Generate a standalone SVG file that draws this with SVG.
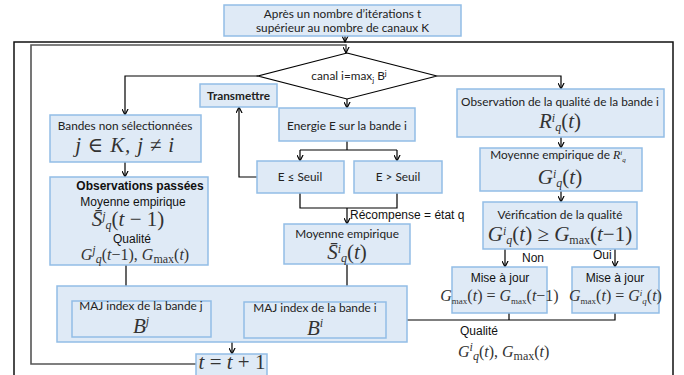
<svg xmlns="http://www.w3.org/2000/svg" width="684" height="375" viewBox="0 0 684 375">
<defs>
<marker id="ah" viewBox="0 0 8 8" refX="7" refY="4" markerWidth="7" markerHeight="7" orient="auto" markerUnits="userSpaceOnUse">
<path d="M0,0.5 L7,4 L0,7.5" fill="none" stroke="#000" stroke-width="1.3"/>
</marker>
<style>
.box{fill:#dfeaf6;stroke:#92bde6;stroke-width:1.5}
.c{fill:none;stroke:#000;stroke-width:1.2}
.ca{fill:none;stroke:#000;stroke-width:1.2;marker-end:url(#ah)}
.t{font-family:Lato,"Liberation Sans",sans-serif;font-size:11.8px;fill:#222;text-anchor:middle}
.a{font-family:"Liberation Sans",Arial,sans-serif;font-size:12px;fill:#111;text-anchor:middle}
.b{font-weight:bold}
.m{font-family:"Liberation Serif","DejaVu Serif",serif;font-size:21px;fill:#333;text-anchor:middle}
.ms{font-family:"Liberation Serif","DejaVu Serif",serif;font-size:16px;fill:#333;text-anchor:middle}
.i{font-style:italic}
.s{font-size:12px}
.s9{font-size:9px}
.n{font-style:normal}
</style>
</defs>
<rect x="0" y="0" width="684" height="375" fill="#fff"/>
<g id="frame">
<path d="M14,375 V42 H673 V375" fill="none" stroke="#111" stroke-width="1.5"/>
</g>
<g id="connectors">
<path d="M196,364 H31 V45 H346 V53" fill="none" stroke="#555" stroke-width="1.6" marker-end="url(#ah)"/>
<path class="ca" d="M345,36 V42"/>
<path class="ca" d="M258,76 H125 V115"/>
<path class="ca" d="M437,76 H561 V89"/>
<path class="ca" d="M347,99 V108"/>
<path class="ca" d="M125,162 V177"/>
<path class="c" d="M347,141 V150"/>
<path class="ca" d="M300,150 V161"/>
<path class="ca" d="M397,150 V161"/>
<path class="c" d="M300,150 H397"/>
<path class="ca" d="M257,177 H239 V107"/>
<path class="c" d="M300,193 V208 H397 V193"/>
<path class="ca" d="M347,208 V224"/>
<path class="ca" d="M561,137 V148"/>
<path class="ca" d="M561,191 V202"/>
<path class="ca" d="M505,249 V267"/>
<path class="ca" d="M615,249 V267"/>
<path class="c" d="M509,313 V320"/>
<path class="ca" d="M615,313 V320 H386"/>
<path class="ca" d="M126,265 V301"/>
<path class="ca" d="M347,264 V302"/>
<path class="ca" d="M232,342 V354"/>
<text class="a" x="350" y="219" font-size="12.6" style="text-anchor:start">Récompense = état q</text>
<text class="a" x="522" y="262" style="text-anchor:start">Non</text>
<text class="a" x="593" y="259" style="text-anchor:start">Oui</text>
<text class="a" x="460" y="335" style="text-anchor:start">Qualité</text>
<text class="ms i" x="458" y="357" style="text-anchor:start">G<tspan class="s" dy="-6">i</tspan><tspan class="s" dy="9">q</tspan><tspan dy="-3" class="n">(</tspan>t<tspan class="n">), </tspan>G<tspan class="s n" dy="3">max</tspan><tspan class="n" dy="-3">(</tspan>t<tspan class="n">)</tspan></text>
</g>
<g id="start">
<rect class="box" x="224" y="5" width="237" height="31"/>
<text class="t" x="342.5" y="17.5" font-size="12.2">Après un nombre d’itérations  t</text>
<text class="t" x="342.5" y="32" font-size="12.2">supérieur au nombre de canaux K</text>
</g>
<g id="decision">
<polygon points="347,53 437,76 347,99 258,76" fill="#fff" stroke="#000" stroke-width="1.2"/>
<text class="t" x="349" y="80" font-size="11">canal i=max<tspan font-size="8" dy="3">j</tspan><tspan dy="-3"> B</tspan><tspan font-size="8" dy="-4">j</tspan></text>
</g>
<g id="transmettre">
<rect class="box" x="200" y="84" width="77" height="23"/>
<text class="t b" x="238.5" y="100" font-size="11">Transmettre</text>
</g>
<g id="bandes">
<rect class="box" x="50" y="115" width="151" height="47"/>
<text class="t" x="125" y="130">Bandes non sélectionnées</text>
<text class="m i" x="125" y="152" letter-spacing="0.8">j ∈ K, j ≠ i</text>
</g>
<g id="observations">
<rect class="box" x="50" y="177" width="158" height="88"/>
<text class="a b" x="140" y="190" font-size="13.5">Observations passées</text>
<text class="a" x="133" y="205.5" font-size="13.5">Moyenne empirique</text>
<text class="m i" x="128" y="226" font-size="20">S̄<tspan class="s" dy="-6">j</tspan><tspan class="s" dy="9">q</tspan><tspan dy="-3" class="n">(</tspan>t<tspan class="n"> − 1)</tspan></text>
<text class="a" x="132" y="243" font-size="13.5">Qualité</text>
<text class="ms i" x="135" y="260" font-size="17.5">G<tspan class="s" dy="-6">j</tspan><tspan class="s" dy="9">q</tspan><tspan dy="-3" class="n">(</tspan>t<tspan class="n">−1), </tspan>G<tspan class="s n" dy="3">max</tspan><tspan class="n" dy="-3">(</tspan>t<tspan class="n">)</tspan></text>
</g>
<g id="energie">
<rect class="box" x="279" y="108" width="136" height="33"/>
<text class="t" x="347" y="130">Energie E sur la bande i</text>
</g>
<g id="seuil-inf">
<rect class="box" x="257" y="161" width="87" height="32"/>
<text class="t" x="300" y="181">E ≤ Seuil</text>
</g>
<g id="seuil-sup">
<rect class="box" x="354" y="161" width="88" height="32"/>
<text class="t" x="398" y="181">E &gt; Seuil</text>
</g>
<g id="moyenne-i">
<rect class="box" x="284" y="224" width="126" height="40"/>
<text class="t" x="347" y="238">Moyenne empirique</text>
<text class="m i" x="347" y="259">S̄<tspan class="s" dy="-6">i</tspan><tspan class="s" dy="9">q</tspan><tspan dy="-3" class="n">(</tspan>t<tspan class="n">)</tspan></text>
</g>
<g id="observation-qualite">
<rect class="box" x="457" y="89" width="207" height="48"/>
<text class="t" x="560" y="106">Observation de la qualité de la bande i</text>
<text class="m i" x="560" y="128">R<tspan class="s" dy="-6">i</tspan><tspan class="s" dy="9">q</tspan><tspan dy="-3" class="n">(</tspan>t<tspan class="n">)</tspan></text>
</g>
<g id="moyenne-r">
<rect class="box" x="480" y="148" width="162" height="43"/>
<text class="t" x="558" y="159">Moyenne empirique de <tspan font-family="Liberation Serif" font-style="italic">R</tspan><tspan font-family="Liberation Serif" font-style="italic" font-size="7" dy="-4">i</tspan><tspan font-family="Liberation Serif" font-style="italic" font-size="7" dy="7">q</tspan></text>
<text class="m i" x="560" y="184">G<tspan class="s" dy="-6">i</tspan><tspan class="s" dy="9">q</tspan><tspan dy="-3" class="n">(</tspan>t<tspan class="n">)</tspan></text>
</g>
<g id="verification">
<rect class="box" x="483" y="202" width="154" height="47"/>
<text class="t" x="560" y="219">Vérification de la qualité</text>
<text class="m i" x="560" y="241" font-size="18">G<tspan class="s" dy="-6">i</tspan><tspan class="s" dy="9">q</tspan><tspan dy="-3" class="n">(</tspan>t<tspan class="n">) ≥ </tspan>G<tspan class="s n" dy="3">max</tspan><tspan class="n" dy="-3">(</tspan>t<tspan class="n">−1)</tspan></text>
</g>
<g id="maj-non">
<rect class="box" x="452" y="267" width="95" height="46"/>
<text class="a" x="500" y="282">Mise à jour</text>
<text class="ms i" x="499.5" y="301" font-size="13">G<tspan class="s9 n" dy="3">max</tspan><tspan class="n" dy="-3">(</tspan>t<tspan class="n">) = </tspan>G<tspan class="s9 n" dy="3">max</tspan><tspan class="n" dy="-3">(</tspan>t<tspan class="n">−1)</tspan></text>
</g>
<g id="maj-oui">
<rect class="box" x="572" y="267" width="87" height="46"/>
<text class="a" x="615" y="282">Mise à jour</text>
<text class="ms i" x="615.5" y="301" font-size="13">G<tspan class="s9 n" dy="3">max</tspan><tspan class="n" dy="-3">(</tspan>t<tspan class="n">) = </tspan>G<tspan class="s9" dy="-5">i</tspan><tspan class="s9" dy="8">q</tspan><tspan dy="-3" class="n">(</tspan>t<tspan class="n">)</tspan></text>
</g>
<g id="maj-container">
<rect class="box" x="57" y="286" width="350" height="56"/>
</g>
<g id="maj-j">
<rect class="box" x="72" y="301" width="139" height="36"/>
<text class="t" x="141" y="310">MAJ index de la bande j</text>
<text class="m i" x="141" y="333">B<tspan class="s" dy="-8">j</tspan></text>
</g>
<g id="maj-i">
<rect class="box" x="244" y="302" width="142" height="36"/>
<text class="t" x="315" y="312">MAJ index de la bande i</text>
<text class="m i" x="315" y="335">B<tspan class="s" dy="-8">i</tspan></text>
</g>
<g id="increment">
<rect class="box" x="196" y="354" width="71" height="24"/>
<text class="m i" x="232" y="369" font-size="19">t<tspan class="n"> = </tspan>t<tspan class="n"> + 1</tspan></text>
</g>
</svg>
